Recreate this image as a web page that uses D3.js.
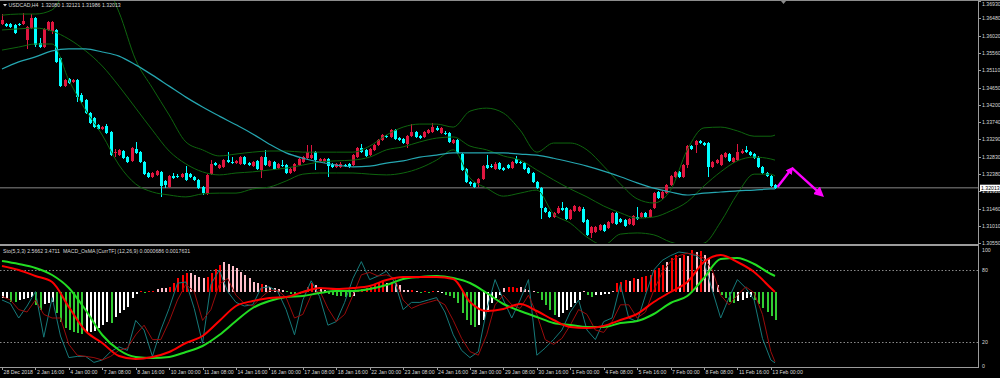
<!DOCTYPE html>
<html>
<head>
<meta charset="utf-8">
<script src="https://cdn.jsdelivr.net/npm/d3@7"></script>
<style>
  html, body { margin: 0; padding: 0; background: #000; }
  svg { display: block; }
  text { font-family: "Liberation Sans", Arial, sans-serif; }
</style>
</head>
<body>
<svg id="chart" width="1000" height="378"></svg>
<script>
// ---- data (USDCAD H4) ----
// candles: [open, high, low, close], one per H4 bar
const candles = [
  [1.3633,1.3659,1.3630,1.3643],[1.3633,1.3635,1.3625,1.3627],[1.3633,1.3635,1.3622,1.3625],[1.3630,1.3633,1.3606,1.3609],
  [1.3633,1.3635,1.3627,1.3630],[1.3633,1.3662,1.3630,1.3641],[1.3591,1.3627,1.3567,1.3625],[1.3622,1.3659,1.3620,1.3649],
  [1.3649,1.3651,1.3572,1.3577],[1.3583,1.3596,1.3569,1.3572],[1.3572,1.3622,1.3569,1.3620],[1.3617,1.3641,1.3614,1.3638],
  [1.3614,1.3641,1.3606,1.3638],[1.3617,1.3620,1.3530,1.3533],[1.3543,1.3546,1.3467,1.3469],[1.3469,1.3488,1.3467,1.3485],
  [1.3488,1.3490,1.3475,1.3477],[1.3480,1.3488,1.3477,1.3485],[1.3485,1.3488,1.3427,1.3440],[1.3446,1.3451,1.3424,1.3427],
  [1.3432,1.3435,1.3396,1.3398],[1.3398,1.3401,1.3369,1.3372],[1.3385,1.3388,1.3359,1.3361],[1.3367,1.3369,1.3353,1.3356],
  [1.3356,1.3364,1.3353,1.3361],[1.3364,1.3369,1.3343,1.3345],[1.3348,1.3351,1.3285,1.3287],[1.3293,1.3303,1.3282,1.3295],
  [1.3287,1.3303,1.3285,1.3301],[1.3298,1.3301,1.3277,1.3279],[1.3282,1.3285,1.3266,1.3269],[1.3272,1.3309,1.3269,1.3306],
  [1.3303,1.3322,1.3290,1.3293],[1.3295,1.3298,1.3266,1.3269],[1.3269,1.3272,1.3235,1.3237],[1.3240,1.3243,1.3227,1.3230],
  [1.3230,1.3243,1.3227,1.3240],[1.3235,1.3248,1.3232,1.3245],[1.3243,1.3245,1.3177,1.3206],[1.3219,1.3222,1.3200,1.3208],
  [1.3203,1.3235,1.3200,1.3232],[1.3232,1.3240,1.3224,1.3227],[1.3232,1.3237,1.3227,1.3230],[1.3230,1.3240,1.3227,1.3237],
  [1.3240,1.3258,1.3219,1.3222],[1.3237,1.3240,1.3227,1.3230],[1.3230,1.3232,1.3219,1.3222],[1.3222,1.3224,1.3198,1.3200],
  [1.3203,1.3206,1.3182,1.3187],[1.3185,1.3237,1.3182,1.3235],[1.3237,1.3274,1.3235,1.3264],[1.3266,1.3269,1.3258,1.3261],
  [1.3253,1.3264,1.3251,1.3261],[1.3256,1.3277,1.3253,1.3274],[1.3274,1.3295,1.3266,1.3269],[1.3269,1.3282,1.3264,1.3266],
  [1.3266,1.3274,1.3264,1.3272],[1.3264,1.3285,1.3261,1.3282],[1.3282,1.3285,1.3261,1.3264],[1.3266,1.3269,1.3258,1.3261],
  [1.3258,1.3272,1.3256,1.3269],[1.3272,1.3274,1.3248,1.3251],[1.3248,1.3285,1.3227,1.3282],[1.3282,1.3301,1.3258,1.3261],
  [1.3258,1.3274,1.3256,1.3272],[1.3269,1.3272,1.3248,1.3251],[1.3253,1.3266,1.3251,1.3264],[1.3261,1.3274,1.3256,1.3258],
  [1.3261,1.3264,1.3237,1.3240],[1.3240,1.3253,1.3237,1.3251],[1.3245,1.3266,1.3243,1.3264],[1.3261,1.3279,1.3258,1.3277],
  [1.3269,1.3285,1.3266,1.3282],[1.3279,1.3314,1.3277,1.3295],[1.3279,1.3314,1.3277,1.3287],[1.3295,1.3298,1.3248,1.3274],
  [1.3272,1.3279,1.3269,1.3277],[1.3269,1.3279,1.3266,1.3277],[1.3277,1.3279,1.3230,1.3258],[1.3264,1.3266,1.3253,1.3256],
  [1.3256,1.3266,1.3253,1.3264],[1.3256,1.3269,1.3253,1.3264],[1.3261,1.3264,1.3256,1.3258],[1.3264,1.3266,1.3253,1.3256],
  [1.3261,1.3290,1.3258,1.3287],[1.3282,1.3309,1.3279,1.3306],[1.3306,1.3316,1.3293,1.3295],[1.3301,1.3303,1.3282,1.3285],
  [1.3287,1.3306,1.3285,1.3303],[1.3301,1.3316,1.3298,1.3314],[1.3314,1.3330,1.3311,1.3327],[1.3327,1.3343,1.3324,1.3340],
  [1.3337,1.3340,1.3332,1.3335],[1.3335,1.3356,1.3332,1.3353],[1.3353,1.3356,1.3327,1.3330],[1.3332,1.3335,1.3324,1.3327],
  [1.3330,1.3332,1.3316,1.3319],[1.3316,1.3340,1.3306,1.3337],[1.3337,1.3369,1.3335,1.3348],[1.3348,1.3351,1.3332,1.3335],
  [1.3337,1.3340,1.3330,1.3332],[1.3335,1.3351,1.3332,1.3348],[1.3345,1.3356,1.3343,1.3353],[1.3348,1.3372,1.3345,1.3361],
  [1.3359,1.3364,1.3351,1.3353],[1.3345,1.3361,1.3343,1.3359],[1.3345,1.3351,1.3340,1.3343],[1.3345,1.3348,1.3319,1.3322],
  [1.3319,1.3330,1.3316,1.3327],[1.3327,1.3330,1.3290,1.3293],[1.3290,1.3293,1.3245,1.3248],[1.3251,1.3253,1.3214,1.3216],
  [1.3216,1.3219,1.3206,1.3211],[1.3214,1.3216,1.3200,1.3203],[1.3214,1.3227,1.3203,1.3224],[1.3224,1.3261,1.3222,1.3258],
  [1.3261,1.3287,1.3251,1.3253],[1.3258,1.3264,1.3253,1.3256],[1.3251,1.3269,1.3248,1.3264],[1.3266,1.3269,1.3248,1.3251],
  [1.3253,1.3256,1.3245,1.3248],[1.3261,1.3264,1.3251,1.3253],[1.3253,1.3272,1.3251,1.3269],[1.3277,1.3285,1.3264,1.3266],
  [1.3269,1.3272,1.3264,1.3266],[1.3266,1.3269,1.3248,1.3251],[1.3253,1.3256,1.3237,1.3240],[1.3240,1.3243,1.3214,1.3216],
  [1.3216,1.3219,1.3198,1.3200],[1.3200,1.3203,1.3119,1.3148],[1.3148,1.3150,1.3135,1.3137],[1.3137,1.3140,1.3121,1.3124],
  [1.3124,1.3137,1.3121,1.3135],[1.3135,1.3153,1.3132,1.3148],[1.3148,1.3164,1.3140,1.3142],[1.3148,1.3150,1.3116,1.3119],
  [1.3119,1.3145,1.3116,1.3142],[1.3140,1.3156,1.3137,1.3153],[1.3140,1.3153,1.3137,1.3150],[1.3145,1.3150,1.3108,1.3111],
  [1.3116,1.3119,1.3074,1.3077],[1.3082,1.3100,1.3069,1.3098],[1.3084,1.3100,1.3082,1.3098],[1.3090,1.3106,1.3087,1.3103],
  [1.3103,1.3106,1.3084,1.3087],[1.3095,1.3113,1.3092,1.3111],[1.3108,1.3137,1.3106,1.3135],[1.3135,1.3137,1.3103,1.3106],
  [1.3119,1.3121,1.3108,1.3111],[1.3116,1.3119,1.3098,1.3100],[1.3106,1.3121,1.3103,1.3119],[1.3103,1.3129,1.3100,1.3127],
  [1.3124,1.3150,1.3116,1.3119],[1.3124,1.3137,1.3121,1.3135],[1.3135,1.3137,1.3121,1.3124],[1.3124,1.3145,1.3121,1.3142],
  [1.3148,1.3190,1.3145,1.3187],[1.3190,1.3193,1.3172,1.3174],[1.3174,1.3193,1.3172,1.3190],[1.3187,1.3211,1.3185,1.3208],
  [1.3208,1.3235,1.3206,1.3232],[1.3230,1.3245,1.3227,1.3243],[1.3243,1.3245,1.3227,1.3230],[1.3230,1.3264,1.3227,1.3261],
  [1.3261,1.3314,1.3253,1.3311],[1.3311,1.3314,1.3301,1.3303],[1.3314,1.3327,1.3293,1.3324],[1.3324,1.3327,1.3316,1.3319],
  [1.3319,1.3322,1.3311,1.3314],[1.3319,1.3322,1.3230,1.3256],[1.3256,1.3272,1.3253,1.3269],[1.3266,1.3277,1.3264,1.3274],
  [1.3261,1.3290,1.3258,1.3287],[1.3282,1.3295,1.3279,1.3293],[1.3290,1.3293,1.3269,1.3272],[1.3269,1.3282,1.3266,1.3279],
  [1.3274,1.3316,1.3272,1.3295],[1.3293,1.3303,1.3290,1.3298],[1.3301,1.3311,1.3293,1.3295],[1.3295,1.3298,1.3285,1.3287],
  [1.3290,1.3293,1.3277,1.3279],[1.3279,1.3285,1.3253,1.3256],[1.3256,1.3258,1.3237,1.3240],[1.3240,1.3243,1.3230,1.3232],
  [1.3232,1.3235,1.3203,1.3206],[1.32080,1.32121,1.31986,1.32013]
];
const lastPrice = 1.32013;

// moving average and Bollinger bands, read every 4th bar (last point = last bar)
const maLine   = [1.3514,1.3533,1.3546,1.3562,1.3567,1.3567,1.3559,1.3548,1.3525,1.3498,1.3469,1.3440,1.3414,1.3390,1.3367,1.3343,
                  1.3316,1.3293,1.3279,1.3269,1.3261,1.3256,1.3258,1.3266,1.3272,1.3282,1.3287,1.3293,1.3293,1.3293,1.3293,1.3290,
                  1.3287,1.3279,1.3269,1.3258,1.3245,1.3230,1.3214,1.3200,1.3190,1.3182,1.3187,1.3190,1.3193,1.3195,1.3198,1.3198];
const bbUpper  = [1.3656,1.3659,1.3659,1.3670,1.3736,1.3762,1.3749,1.3664,1.3538,1.3464,1.3393,1.3322,1.3301,1.3285,1.3290,1.3295,
                  1.3298,1.3298,1.3295,1.3295,1.3295,1.3295,1.3311,1.3340,1.3361,1.3369,1.3369,1.3361,1.3403,1.3411,1.3398,1.3353,
                  1.3295,1.3319,1.3319,1.3301,1.3258,1.3211,1.3172,1.3161,1.3195,1.3301,1.3359,1.3361,1.3351,1.3337,1.3337,1.3340];
const bbMiddle = [1.3617,1.3620,1.3622,1.3614,1.3593,1.3562,1.3522,1.3469,1.3411,1.3353,1.3298,1.3264,1.3243,1.3235,1.3240,1.3243,
                  1.3248,1.3253,1.3261,1.3269,1.3272,1.3274,1.3282,1.3301,1.3309,1.3322,1.3332,1.3335,1.3311,1.3301,1.3285,1.3274,
                  1.3248,1.3222,1.3198,1.3177,1.3153,1.3135,1.3121,1.3124,1.3140,1.3164,1.3206,1.3243,1.3272,1.3282,1.3277,1.3274];
const bbLower  = [1.3564,1.3572,1.3580,1.3580,1.3485,1.3406,1.3340,1.3261,1.3211,1.3190,1.3182,1.3177,1.3185,1.3187,1.3187,1.3198,
                  1.3203,1.3219,1.3237,1.3240,1.3240,1.3240,1.3237,1.3235,1.3240,1.3253,1.3274,1.3301,1.3227,1.3200,1.3179,1.3187,
                  1.3195,1.3132,1.3108,1.3071,1.3050,1.3079,1.3082,1.3077,1.3058,1.3050,1.3055,1.3111,1.3185,1.3237,1.3237,1.3232];

// stochastic (5,3,3), read every 2nd bar (last point = last bar)
const stochMain = [55,52,40,50,62,24,57,25,7,8, 8,3,5,12,16,13,38,30,8,30, 48,69,70,48,19,68,80,62,53,50,
                   51,65,66,62,47,26,55,71,58,34, 37,53,73,87,72,75,79,70,47,53, 53,55,57,45,26,13,7,12,47,72,
                   55,40,55,72,9,15,22,30,45,55, 30,22,37,40,68,40,37,59,80,88, 92,95,94,92,87,63,40,57,72,65,
                   55,23,5,2.6];
const stochSignal = [58,55,47,45,55,43,40,40,18,9, 8,7,5,8,13,15,26,34,22,22, 37,55,68,62,38,47,68,73,59,52,
                   50,57,63,63,57,40,43,59,63,48, 37,43,59,76,78,75,76,73,55,48, 51,53,55,51,38,23,12,9,26,51,
                   59,51,48,59,43,22,18,23,34,47, 43,30,28,37,51,51,40,45,63,78, 87,92,94,93,90,80,59,51,59,66,
                   61,43,12,3.5];

// MACD_OsMA lines, read every 4th bar
const macdMain = [.0026,.0022,.0016,.0010,-.0015,-.0039,-.0051,-.0064,-.0067,-.0065,-.0060,-.0051,-.0044,-.0029,-.0014,-.0009,
                  -.0006,-.0005,.0000,.0004,.0003,.0004,.0006,.0012,.0015,.0015,.0015,.0013,-.0010,-.0019,-.0017,-.0012,
                  -.0019,-.0028,-.0035,-.0036,-.0034,-.0028,-.0022,-.0010,.0000,.0010,.0030,.0037,.0030,.0020,.0004,.0000];
const macdSignal = [.0031,.0028,.0024,.0017,.0004,-.0018,-.0043,-.0058,-.0065,-.0066,-.0065,-.0060,-.0054,-.0043,-.0029,-.0016,
                  -.0009,-.0005,-.0004,-.0001,.0001,.0001,.0003,.0007,.0013,.0015,.0016,.0014,.0009,-.0001,-.0012,-.0019,
                  -.0025,-.0031,-.0033,-.0035,-.0035,-.0031,-.0029,-.0022,-.0011,-.0004,.0014,.0033,.0034,.0028,.0018,.0016];

// OsMA histogram, one per bar; colour code per bar: R up+, P down+, G down-, W up-
const osma = [
  -.0006,-.0006,-.0010,-.0010,-.0008,-.0007,-.0006,-.0005,-.0013,-.0018,-.0012,-.0011,-.0010,-.0021,-.0030,-.0036,-.0038,-.0040,-.0041,-.0042,
  -.0041,-.0040,-.0039,-.0036,-.0033,-.0030,-.0031,-.0025,-.0021,-.0018,-.0015,-.0006,-.0002,.0001,-.0001,.0001,.0001,.0003,.0004,.0004,
  .0005,.0009,.0014,.0017,.0019,.0019,.0017,.0015,.0014,.0015,.0019,.0023,.0027,.0030,.0028,.0026,.0024,.0020,.0017,.0014,
  .0010,.0009,.0008,.0007,.0005,.0004,.0003,.0002,.0001,-.0002,-.0003,-.0002,.0001,.0005,.0009,.0007,.0004,.0002,-.0002,-.0003,
  -.0004,-.0004,-.0005,-.0005,-.0004,.0001,.0003,.0004,.0005,.0007,.0009,.0010,.0009,.0010,.0009,.0007,.0002,.0002,.0002,.0001,
  -.0001,.0001,-.0001,.0001,.0001,-.0001,-.0003,-.0004,-.0006,-.0011,-.0021,-.0028,-.0033,-.0035,-.0033,-.0028,-.0020,-.0011,-.0006,-.0003,
  .0004,.0005,.0005,.0004,.0005,.0003,.0002,.0001,-.0001,-.0008,-.0013,-.0018,-.0023,-.0025,-.0021,-.0018,-.0015,-.0011,-.0008,.0001,
  -.0003,-.0005,-.0003,-.0003,-.0002,-.0002,.0001,.0009,.0010,.0012,.0011,.0014,.0013,.0015,.0016,.0017,.0022,.0024,.0027,.0030,
  .0034,.0037,.0034,.0037,.0036,.0042,.0040,.0041,.0037,.0034,.0019,.0007,-.0003,-.0006,-.0010,-.0011,-.0009,-.0008,-.0006,-.0005,
  -.0008,-.0012,-.0016,-.0020,-.0024,-.0028
];
const osmaCodes =
  "WWGGWWWWGG" + "WWWGGGGGGG" + "WWWWWWGWWW" + "WWWRGRRPPP" + "RRRRRPPPPR" + "RRRPPPPPPP" +
  "PPRPPPPPGG" + "GGRRRPPPGG" + "GGGGWRRRRR" + "RRPRPPPPRP" + "GRGRPWGGGG" + "GGGGWWWWWW" +
  "PRRRPPPPGG" + "GGGWWWWWWP" + "GGWWWWPRRR" + "PRPRRRRRRP" + "RRPRPRPRPP" + "PPGGGGWWWW" + "GGGGGG";

const priceTicks = [1.36930,1.36480,1.36020,1.35560,1.35110,1.34650,1.34200,1.33740,
                    1.33290,1.32830,1.32380,1.31920,1.31460,1.31010,1.30550];
const subTicks = [100, 80, 20, 0];
const levels = [80, 20];
const dateLabels = ["28 Dec 2018","2 Jan 16:00","4 Jan 00:00","7 Jan 08:00","8 Jan 16:00","10 Jan 00:00",
  "11 Jan 08:00","14 Jan 16:00","16 Jan 00:00","17 Jan 08:00","18 Jan 16:00","22 Jan 00:00","23 Jan 08:00",
  "24 Jan 16:00","28 Jan 00:00","29 Jan 08:00","30 Jan 16:00","1 Feb 00:00","4 Feb 08:00","5 Feb 16:00",
  "7 Feb 00:00","8 Feb 08:00","11 Feb 16:00","13 Feb 00:00"];
const dateStep = 8;
// hand-drawn forecast arrow: [bar, price]
const arrowPts = [[185.6, 1.3203], [189.1, 1.3253], [196.3, 1.3181]];

// ---- layout ----
const W = 1000, H = 378;
const axisX = 978;
const mainBottom = 243, sepY = 245, subTop = 246, subBottom = 366, axisY = 367;

const x = d3.scaleLinear().domain([0, 185]).range([2, 775]);
const yPrice = d3.scaleLinear().domain([1.3055, 1.3696]).range([243.2, 0]);
const ySub = d3.scaleLinear().domain([0, 100]).range([366, 246]);
const yOsma = d3.scaleLinear().domain([-0.0074, 0.0046]).range([366, 246]);

const svg = d3.select("#chart");
svg.append("rect").attr("width", W).attr("height", H).attr("fill", "#000");

const defs = svg.append("defs");
defs.append("clipPath").attr("id", "clipMain")
  .append("rect").attr("x", 0).attr("y", 1).attr("width", axisX).attr("height", mainBottom - 1);
defs.append("clipPath").attr("id", "clipSub")
  .append("rect").attr("x", 0).attr("y", subTop).attr("width", axisX).attr("height", subBottom - subTop);
defs.append("marker").attr("id", "head1").attr("viewBox", "0 0 10 10").attr("refX", 2).attr("refY", 5)
  .attr("markerWidth", 3.2).attr("markerHeight", 3.2).attr("orient", "auto")
  .append("path").attr("d", "M0,0L10,5L0,10z").attr("fill", "#ff00ff");
defs.append("marker").attr("id", "head2").attr("viewBox", "0 0 10 10").attr("refX", 2).attr("refY", 5)
  .attr("markerWidth", 4.2).attr("markerHeight", 4.2).attr("orient", "auto")
  .append("path").attr("d", "M0,0L10,5L0,10z").attr("fill", "#ff00ff");

const bandIdx = (arr, step) => arr.map((v, k) => (k === arr.length - 1 ? candles.length - 1 : k * step));

// ---- main window ----
const main = svg.append("g").attr("clip-path", "url(#clipMain)");

main.append("line")
  .attr("x1", 0).attr("x2", axisX).attr("y1", yPrice(lastPrice)).attr("y2", yPrice(lastPrice))
  .attr("stroke", "#5a5a5a").attr("stroke-width", 1.5);

const gCandles = main.append("g").attr("shape-rendering", "crispEdges");
const candleColor = d => (d[3] >= d[0] ? "#e0163f" : "#00ffff");
gCandles.selectAll("line").data(candles).join("line")
  .attr("x1", (d, i) => Math.round(x(i)) + 0.5).attr("x2", (d, i) => Math.round(x(i)) + 0.5)
  .attr("y1", d => yPrice(d[1])).attr("y2", d => yPrice(d[2]))
  .attr("stroke", candleColor).attr("stroke-width", 1);
gCandles.selectAll("rect").data(candles).join("rect")
  .attr("x", (d, i) => Math.round(x(i)) - 1)
  .attr("y", d => yPrice(Math.max(d[0], d[3])))
  .attr("width", 3)
  .attr("height", d => Math.max(1, yPrice(Math.min(d[0], d[3])) - yPrice(Math.max(d[0], d[3]))))
  .attr("fill", candleColor);

function drawSeries(g, values, idx, yScale, color, width, curve) {
  const line = d3.line()
    .x((v, k) => x(idx[k]))
    .y(v => yScale(v))
    .curve(curve || d3.curveMonotoneX);
  g.append("path").attr("d", line(values)).attr("fill", "none")
    .attr("stroke", color).attr("stroke-width", width).attr("stroke-linejoin", "round");
}

[bbUpper, bbMiddle, bbLower].forEach(arr => drawSeries(main, arr, bandIdx(arr, 4), yPrice, "#0e650e", 1));
drawSeries(main, maLine, bandIdx(maLine, 4), yPrice, "#25a6b0", 1.2);

// forecast arrows
const arrowLine = (a, b, m) => main.append("line")
  .attr("x1", x(a[0])).attr("y1", yPrice(a[1])).attr("x2", x(b[0])).attr("y2", yPrice(b[1]))
  .attr("stroke", "#ff00ff").attr("stroke-width", 2.4).attr("marker-end", `url(#${m})`);
arrowLine(arrowPts[0], [arrowPts[0][0] + (arrowPts[1][0] - arrowPts[0][0]) * 0.82,
                        arrowPts[0][1] + (arrowPts[1][1] - arrowPts[0][1]) * 0.82], "head1");
arrowLine(arrowPts[1], [arrowPts[1][0] + (arrowPts[2][0] - arrowPts[1][0]) * 0.86,
                        arrowPts[1][1] + (arrowPts[2][1] - arrowPts[1][1]) * 0.86], "head2");

// ---- sub window ----
const sub = svg.append("g").attr("clip-path", "url(#clipSub)");
levels.forEach(l => sub.append("line")
  .attr("x1", 0).attr("x2", axisX).attr("y1", Math.round(ySub(l)) + 0.5).attr("y2", Math.round(ySub(l)) + 0.5)
  .attr("stroke", "#8a8a8a").attr("stroke-width", 1).attr("stroke-dasharray", "1.5,2"));

const osmaColor = { R: "#ff0000", P: "#ffc0cb", G: "#32cd32", W: "#ffffff" };
const zeroY = yOsma(0);
sub.append("g").attr("shape-rendering", "crispEdges")
  .selectAll("rect").data(osma).join("rect")
  .attr("x", (d, i) => Math.round(x(i)) - 0.5)
  .attr("width", 2)
  .attr("y", d => Math.min(zeroY, yOsma(d)))
  .attr("height", d => Math.max(1, Math.abs(yOsma(d) - zeroY)))
  .attr("fill", (d, i) => osmaColor[osmaCodes[i]]);

drawSeries(sub, stochMain, bandIdx(stochMain, 2), ySub, "#167a7a", 1, d3.curveLinear);
drawSeries(sub, stochSignal, bandIdx(stochSignal, 2), ySub, "#9a0c0c", 1, d3.curveLinear);
drawSeries(sub, macdSignal, bandIdx(macdSignal, 4), yOsma, "#22dd22", 2);
drawSeries(sub, macdMain, bandIdx(macdMain, 4), yOsma, "#ff0000", 2);

// ---- frame ----
svg.append("line").attr("x1", 0).attr("x2", W).attr("y1", 0.5).attr("y2", 0.5).attr("stroke", "#8c8c8c");
svg.append("rect").attr("x", 0).attr("y", sepY - 1).attr("width", axisX + 1).attr("height", 2).attr("fill", "#9c9c9c");
svg.append("line").attr("x1", axisX + 0.5).attr("x2", axisX + 0.5).attr("y1", 0).attr("y2", axisY + 0.5)
  .attr("stroke", "#9c9c9c");
svg.append("line").attr("x1", 0).attr("x2", axisX + 1).attr("y1", axisY + 0.5).attr("y2", axisY + 0.5)
  .attr("stroke", "#9c9c9c");
// chart shift marker
svg.append("path").attr("d", "M781,1L786,1L783.5,4z").attr("fill", "#8c8c8c");

const labelColor = "#d8d8d8";
// price axis
const pa = svg.append("g");
pa.selectAll("line").data(priceTicks).join("line")
  .attr("x1", axisX).attr("x2", axisX + 3)
  .attr("y1", d => Math.round(yPrice(d)) + 0.5).attr("y2", d => Math.round(yPrice(d)) + 0.5)
  .attr("stroke", "#9c9c9c");
pa.selectAll("text").data(priceTicks).join("text")
  .attr("x", axisX + 4).attr("y", d => Math.max(5.5, yPrice(d) + 1.9))
  .attr("font-size", 5.2).attr("fill", labelColor)
  .text(d => d.toFixed(5));
// current price box
const cpY = yPrice(lastPrice);
svg.append("rect").attr("x", axisX + 2).attr("y", cpY - 3).attr("width", 20).attr("height", 6.5).attr("fill", "#ffffff");
svg.append("text").attr("x", axisX + 3).attr("y", cpY + 1.9).attr("font-size", 5.2).attr("fill", "#000")
  .text(lastPrice.toFixed(5));

// sub axis
const sa = svg.append("g");
sa.selectAll("text").data(subTicks).join("text")
  .attr("x", axisX + 4).attr("y", d => (d === 100 ? ySub(d) + 5.5 : ySub(d) + 1.9))
  .attr("font-size", 5.2).attr("fill", labelColor)
  .text(d => d);

// time axis
const ta = svg.append("g");
ta.selectAll("line").data(dateLabels).join("line")
  .attr("x1", (d, k) => Math.round(x(k * dateStep)) + 0.5).attr("x2", (d, k) => Math.round(x(k * dateStep)) + 0.5)
  .attr("y1", axisY).attr("y2", axisY + 3).attr("stroke", "#9c9c9c");
ta.selectAll("text").data(dateLabels).join("text")
  .attr("x", (d, k) => x(k * dateStep) + 1.5).attr("y", 373.5)
  .attr("font-size", 5.2).attr("fill", labelColor)
  .text(d => d);

// headers
svg.append("path").attr("d", "M3,4L7,4L5,6.5z").attr("fill", labelColor);
svg.append("text").attr("x", 8.5).attr("y", 7.2).attr("font-size", 5.2).attr("fill", labelColor)
  .attr("xml:space", "preserve")
  .text("USDCAD,H4  1.32080 1.32121 1.31986 1.32013");
svg.append("text").attr("x", 3).attr("y", 253).attr("font-size", 5.2).attr("fill", labelColor)
  .attr("xml:space", "preserve")
  .text("Sto(5,3,3) 2.5662 3.4711  MACD_OsMA [CurrTF] (12,26,9) 0.0000686 0.0017631");
</script>
</body>
</html>
